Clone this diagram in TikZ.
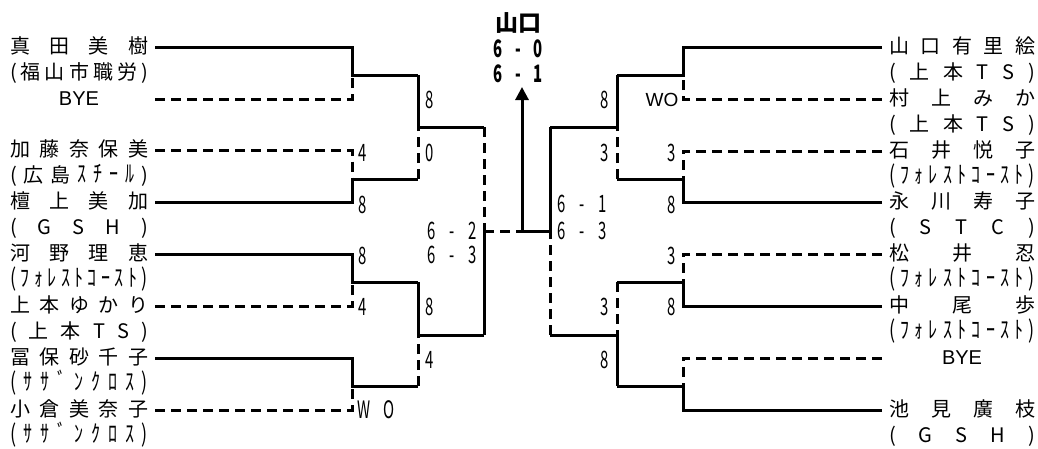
\documentclass[tikz,border=0pt]{standalone}
\usepackage{fontspec}
\setmainfont{Noto Sans CJK JP}
\newfontfamily\numfont[FakeStretch=0.62]{Noto Sans CJK JP}
\newfontfamily\hwfont[FakeStretch=0.75]{Noto Sans CJK JP}
\newfontfamily\latfont{Liberation Sans}
\usetikzlibrary{arrows.meta}
\def\spr#1{\ifx#1\relax\else\hfill#1\expandafter\spr\fi}
\def\distA#1{#1\spr}
\newcommand\dist[2]{\makebox[#1][s]{\distA#2\relax}}
\newcommand\hw{\hwfont\fontsize{24}{24}\selectfont}
\begin{document}
\begin{tikzpicture}[x=1pt,y=-1pt,line width=3pt,
  nm/.style={inner sep=0pt,outer xsep=7pt,text height=15pt,text depth=3pt,anchor=west,font=\fontsize{20}{20}\selectfont},
  sc/.style={inner sep=0pt,font=\numfont\fontsize{24}{24}\selectfont},
  dsh/.style={dash pattern=on 10pt off 6pt},
  arr/.style={-{Triangle[width=13pt,length=13pt]}}]
\useasboundingbox (0,0) rectangle (1038,448);
% left names
\node[nm] (L1) at (3,47) {\dist{138pt}{真田美樹}};
\node[nm] (L1a) at (3,73) {\dist{138pt}{(福山市職労)}};
\node[nm] (L2) at (3,99) {\makebox[138pt]{\latfont BYE}};
\node[nm] (L3) at (3,150.5) {\dist{138pt}{加藤奈保美}};
\node[nm] (L3a) at (3,176.5) {\makebox[138pt][s]{(\hfill 広\hfill 島\hfill{\hw ｽ}\hfill{\hw ﾁ}\hfill{\hw ｰ}\hfill{\hw ﾙ}\hfill)}};
\node[nm] (L4) at (3,202) {\dist{138pt}{檀上美加}};
\node[nm] (L4a) at (3,228) {\dist{138pt}{(GSH)}};
\node[nm] (L5) at (3,254) {\dist{138pt}{河野理恵}};
\node[nm] (L5a) at (3,280) {\hw\dist{138pt}{(ﾌｫﾚｽﾄｺｰｽﾄ)}};
\node[nm] (L6) at (3,306) {\dist{138pt}{上本ゆかり}};
\node[nm] (L6a) at (3,332) {\dist{138pt}{(上本TS)}};
\node[nm] (L7) at (3,358) {\dist{138pt}{冨保砂千子}};
\node[nm] (L7a) at (3,384) {\hw\dist{138pt}{(ｻｻﾞﾝｸﾛｽ)}};
\node[nm] (L8) at (3,410) {\dist{138pt}{小倉美奈子}};
\node[nm] (L8a) at (3,436) {\hw\dist{138pt}{(ｻｻﾞﾝｸﾛｽ)}};
% right names
\node[nm] (R1) at (882,47) {\dist{146pt}{山口有里絵}};
\node[nm] (R1a) at (882,73) {\dist{146pt}{(上本TS)}};
\node[nm] (R2) at (882,99) {\dist{146pt}{村上みか}};
\node[nm] (R2a) at (882,125) {\dist{146pt}{(上本TS)}};
\node[nm] (R3) at (882,151) {\dist{146pt}{石井悦子}};
\node[nm] (R3a) at (882,177) {\hw\dist{146pt}{(ﾌｫﾚｽﾄｺｰｽﾄ)}};
\node[nm] (R4) at (882,202) {\dist{146pt}{永川寿子}};
\node[nm] (R4a) at (882,228) {\dist{146pt}{(STC)}};
\node[nm] (R5) at (882,254) {\dist{146pt}{松井忍}};
\node[nm] (R5a) at (882,280) {\hw\dist{146pt}{(ﾌｫﾚｽﾄｺｰｽﾄ)}};
\node[nm] (R6) at (882,306) {\dist{146pt}{中尾歩}};
\node[nm] (R6a) at (882,332) {\hw\dist{146pt}{(ﾌｫﾚｽﾄｺｰｽﾄ)}};
\node[nm] (R7) at (882,358) {\makebox[146pt]{\latfont BYE}};
\node[nm] (R8) at (882,410) {\dist{146pt}{池見廣枝}};
\node[nm] (R8a) at (882,436) {\dist{146pt}{(GSH)}};
% junctions
\coordinate (lj1) at (352,75);  \coordinate (lj2) at (352,179);
\coordinate (lj3) at (352,282); \coordinate (lj4) at (352,386);
\coordinate (lk1) at (418,127); \coordinate (lk2) at (418,335);
\coordinate (lf) at (484,231);
\coordinate (cf) at (522,231);  \coordinate (ct) at (522,87);
\coordinate (rf) at (550,231);
\coordinate (rk1) at (617,127); \coordinate (rk2) at (617,335);
\coordinate (rj1) at (683,75);  \coordinate (rj2) at (683,179);
\coordinate (rj3) at (683,282); \coordinate (rj4) at (683,386);
% left first round
\draw (L1.east) -- (L1.east -| lj1) -- (lj1) -- (lj1 -| lk1);
\draw[dsh] (L2.east) -- (L2.east -| lj1) -- (lj1);
\draw[dsh] (L3.east) -- (L3.east -| lj2) -- (lj2);
\draw (L4.east) -- (L4.east -| lj2) -- (lj2) -- (lj2 -| lk1);
\draw (L5.east) -- (L5.east -| lj3) -- (lj3) -- (lj3 -| lk2);
\draw[dsh] (L6.east) -- (L6.east -| lj3) -- (lj3);
\draw (L7.east) -- (L7.east -| lj4) -- (lj4) -- (lj4 -| lk2);
\draw[dsh] (L8.east) -- (L8.east -| lj4) -- (lj4);
% left second round
\draw (lj1 -| lk1) -- (lk1) -- (lk1 -| lf);
\draw[dsh] (lj2 -| lk1) -- (lk1);
\draw (lj3 -| lk2) -- (lk2) -- (lk2 -| lf);
\draw[dsh] (lj4 -| lk2) -- (lk2);
% left semifinal
\draw[dsh] (lk1 -| lf) -- (lf);
\draw (lk2 -| lf) -- (lf);
% final
\draw[dsh] (lf) -- (cf);
\draw (cf) -- (rf);
\draw[arr] (cf) -- (ct);
% right semifinal
\draw (rk1 -| rf) -- (rf);
\draw[dsh] (rk2 -| rf) -- (rf);
% right second round
\draw (rj1 -| rk1) -- (rk1) -- (rk1 -| rf);
\draw[dsh] (rj2 -| rk1) -- (rk1);
\draw[dsh] (rj3 -| rk2) -- (rk2);
\draw (rj4 -| rk2) -- (rk2) -- (rk2 -| rf);
% right first round
\draw (R1.west) -- (R1.west -| rj1) -- (rj1) -- (rj1 -| rk1);
\draw[dsh] (R2.west) -- (R2.west -| rj1) -- (rj1);
\draw[dsh] (R3.west) -- (R3.west -| rj2) -- (rj2);
\draw (R4.west) -- (R4.west -| rj2) -- (rj2) -- (rj2 -| rk1);
\draw[dsh] (R5.west) -- (R5.west -| rj3) -- (rj3);
\draw (R6.west) -- (R6.west -| rj3) -- (rj3) -- (rj3 -| rk2);
\draw[dsh] (R7.west) -- (R7.west -| rj4) -- (rj4);
\draw (R8.west) -- (R8.west -| rj4) -- (rj4) -- (rj4 -| rk2);
% title
\node[inner sep=0pt,font=\bfseries\fontsize{23}{23}\selectfont] (ttl) at (518,23) {山口};
\node[sc,font=\numfont\bfseries\fontsize{24}{24}\selectfont] (t1) at (518,49) {\makebox[49pt][s]{6\hfill-\hfill0}};
\node[sc,font=\numfont\bfseries\fontsize{24}{24}\selectfont] (t2) at (518,74) {\makebox[49pt][s]{6\hfill-\hfill1}};
% scores left
\node[sc] (s1) at (430,100) {8};
\node[sc] (s2) at (430,153) {0};
\node[sc] (s3) at (363,153) {4};
\node[sc] (s4) at (363,205) {8};
\node[sc] (s5) at (363,256) {8};
\node[sc] (s6) at (363,307) {4};
\node[sc] (s7) at (430,307) {8};
\node[sc] (s8) at (430,360) {4};
\node[sc] (s9) at (376,410) {\makebox[38pt][s]{W\hfill O}};
\node[sc] (s10) at (452,231) {\makebox[49pt][s]{6\hfill-\hfill2}};
\node[sc] (s11) at (452,255) {\makebox[49pt][s]{6\hfill-\hfill3}};
% scores right
\node[sc] (s12) at (582,204) {\makebox[49pt][s]{6\hfill-\hfill1}};
\node[sc] (s13) at (582,231) {\makebox[49pt][s]{6\hfill-\hfill3}};
\node[sc] (s14) at (605,100) {8};
\node[inner sep=0pt,font=\latfont\fontsize{19}{19}\selectfont] (s15) at (662,100) {WO};
\node[sc] (s16) at (605,153) {3};
\node[sc] (s17) at (672,153) {3};
\node[sc] (s18) at (672,205) {8};
\node[sc] (s19) at (672,256) {3};
\node[sc] (s20) at (605,307) {3};
\node[sc] (s21) at (672,307) {8};
\node[sc] (s22) at (605,360) {8};
\end{tikzpicture}
\end{document}
